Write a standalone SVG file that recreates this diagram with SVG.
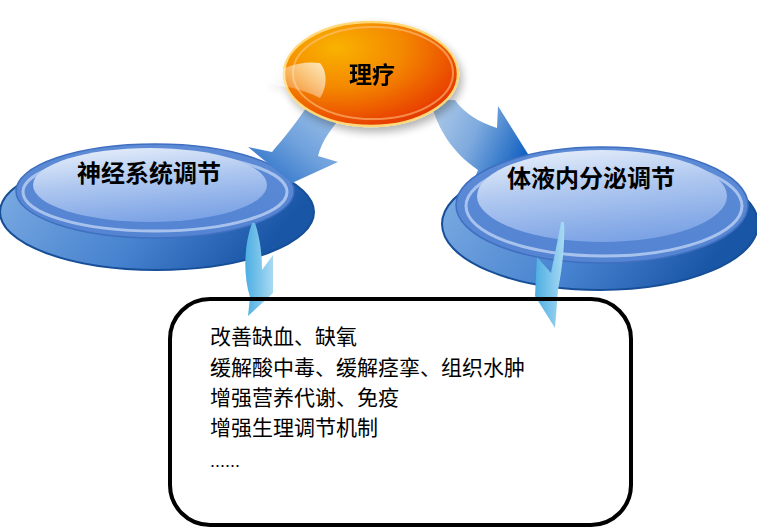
<svg xmlns="http://www.w3.org/2000/svg" width="757" height="530" viewBox="0 0 757 530">
<defs>
<style>
.lbl{font-family:"Liberation Serif","Noto Sans CJK SC",serif;font-weight:bold;fill:#000;}
.item{font-family:"Noto Sans CJK SC",sans-serif;font-size:21px;fill:#000;}
</style>
<radialGradient id="gOrange" cx="0.3" cy="0.25" r="0.85">
<stop offset="0" stop-color="#f9b200"/>
<stop offset="0.45" stop-color="#f48800"/>
<stop offset="0.85" stop-color="#ea4800"/>
<stop offset="1" stop-color="#e23000"/>
</radialGradient>
<linearGradient id="gGloss" x1="1" y1="0.2" x2="0" y2="0.8">
<stop offset="0" stop-color="#fff" stop-opacity="0.7"/>
<stop offset="0.5" stop-color="#fff" stop-opacity="0.35"/>
<stop offset="1" stop-color="#fff" stop-opacity="0"/>
</linearGradient>
<linearGradient id="gBase" x1="0" y1="0" x2="1" y2="0.3">
<stop offset="0" stop-color="#82b0e4"/>
<stop offset="0.6" stop-color="#4682cf"/>
<stop offset="1" stop-color="#1a56a6"/>
</linearGradient>
<linearGradient id="gDisk" x1="0" y1="0" x2="0" y2="1">
<stop offset="0" stop-color="#5d8bd6"/>
<stop offset="1" stop-color="#5484d2"/>
</linearGradient>
<linearGradient id="gInner" x1="0.2" y1="0" x2="0.5" y2="1">
<stop offset="0" stop-color="#e6eefa"/>
<stop offset="0.5" stop-color="#abc5ef"/>
<stop offset="1" stop-color="#7ca3e5"/>
</linearGradient>
<linearGradient id="gArrow1" x1="1" y1="0" x2="0" y2="1">
<stop offset="0" stop-color="#a7c7ea"/>
<stop offset="0.5" stop-color="#6fa1dc"/>
<stop offset="1" stop-color="#1d67c4"/>
</linearGradient>
<linearGradient id="gArrow2" x1="0" y1="0" x2="1" y2="0.4">
<stop offset="0" stop-color="#b5cfea"/>
<stop offset="0.5" stop-color="#7eaade"/>
<stop offset="1" stop-color="#1463c2"/>
</linearGradient>
<linearGradient id="gSky" x1="0" y1="0" x2="1" y2="0">
<stop offset="0" stop-color="#4caee2"/>
<stop offset="1" stop-color="#a8daf3"/>
</linearGradient>
<filter id="shadow" x="-20%" y="-20%" width="140%" height="150%">
<feGaussianBlur in="SourceAlpha" stdDeviation="4"/>
<feOffset dx="3" dy="5" result="b"/>
<feComponentTransfer><feFuncA type="linear" slope="0.3"/></feComponentTransfer>
<feMerge><feMergeNode/><feMergeNode in="SourceGraphic"/></feMerge>
</filter>
</defs>

<g id="connectors-back">
<path id="arrow-to-right" d="M430,100 C438,130 452,152 478,170 L470,190 L533,162 L498,106 L497,128 C478,122 463,112 455,100 Z" fill="url(#gArrow2)"/>
</g>

<g id="node-right">
<ellipse cx="600" cy="224" rx="158" ry="66" fill="url(#gBase)" stroke="#164f98" stroke-width="2"/>
<ellipse cx="602" cy="205" rx="146" ry="58" fill="url(#gDisk)" stroke="#3f6fc0" stroke-width="1.5"/>
<ellipse cx="604" cy="206" rx="138" ry="50" fill="none" stroke="#a8c2ee" stroke-width="3"/>
<ellipse cx="602" cy="196" rx="125" ry="46" fill="url(#gInner)"/>
<text class="lbl" x="591" y="187" font-size="24" text-anchor="middle">体液内分泌调节</text>
</g>

<g id="node-left">
<ellipse cx="157" cy="212" rx="157" ry="58" fill="url(#gBase)" stroke="#164f98" stroke-width="2"/>
<ellipse cx="155" cy="191" rx="139" ry="47" fill="url(#gDisk)" stroke="#3f6fc0" stroke-width="1.5"/>
<ellipse cx="155" cy="192" rx="132" ry="39" fill="none" stroke="#a8c2ee" stroke-width="3"/>
<ellipse cx="150" cy="185" rx="117" ry="37" fill="url(#gInner)"/>
<text class="lbl" x="149" y="182" font-size="24" text-anchor="middle">神经系统调节</text>
</g>

<g id="connectors">
<path id="arrow-to-left" d="M308,105 C295,125 282,140 272,152 L248,147 L292,183 L338,162 L318,156 C322,140 332,128 345,112 Z" fill="url(#gArrow1)"/>
</g>

<g id="node-top" filter="url(#shadow)">
<ellipse cx="371" cy="74" rx="87" ry="52" fill="url(#gOrange)" stroke="#ffd877" stroke-width="2.5"/>
<ellipse cx="373" cy="73" rx="80" ry="46" fill="none" stroke="#ffc98a" stroke-opacity="0.55" stroke-width="2"/>
<path d="M262,84 C276,68 300,60 320,63 C328,72 327,88 320,98 C302,89 284,85 262,84 Z" fill="url(#gGloss)"/>
<text class="lbl" x="372" y="83" font-size="23" text-anchor="middle">理疗</text>
</g>

<g id="connectors-down">
<path id="arrow-left-down" d="M252,223 C244,245 243,275 250,297 L248,316 L273,293 L273,255 L262,270 C262,250 259,235 255,223 Z" fill="url(#gSky)"/>
<path id="arrow-right-down" d="M561,222 C557,245 553,262 551,273 L537,257 L535,296 L555,328 L558,290 C563,265 565,240 564,222 Z" fill="url(#gSky)"/>
</g>

<g id="node-box">
<rect x="170" y="299" width="461" height="226" rx="40" ry="40" fill="none" stroke="#000" stroke-width="4"/>
<text class="item" x="210" y="344">改善缺血、缺氧</text>
<text class="item" x="210" y="375">缓解酸中毒、缓解痉挛、组织水肿</text>
<text class="item" x="210" y="405">增强营养代谢、免疫</text>
<text class="item" x="210" y="435">增强生理调节机制</text>
<text x="210" y="467" font-family="Liberation Sans, sans-serif" font-size="18" fill="#000">......</text>
</g>
</svg>
